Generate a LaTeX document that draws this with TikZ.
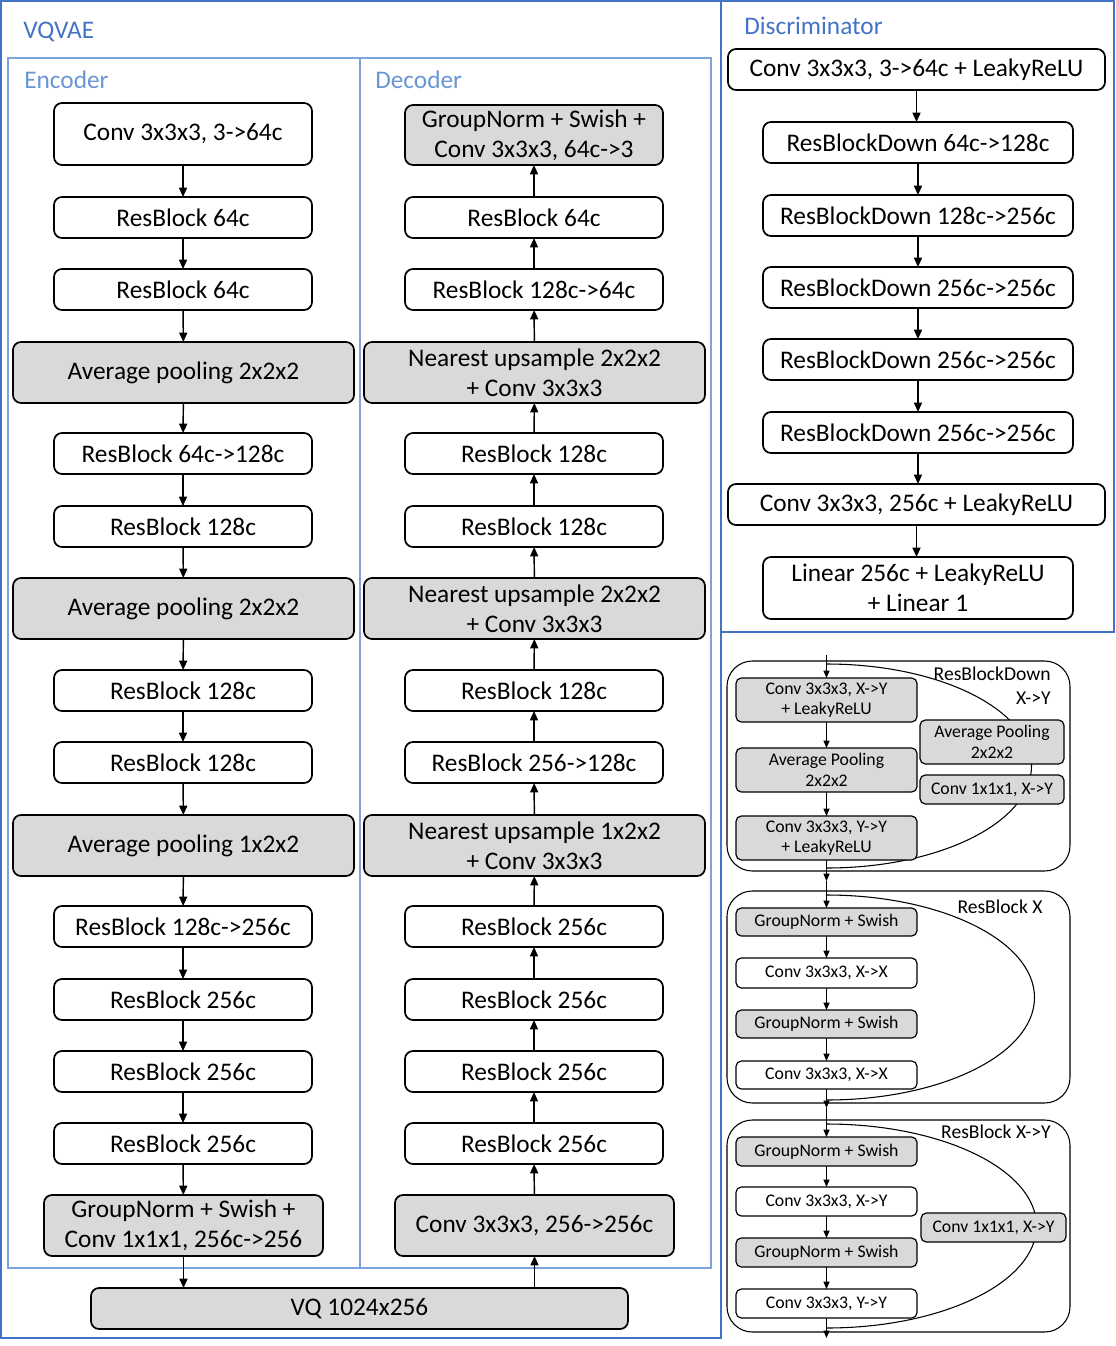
\documentclass[tikz,border=0pt]{standalone}
\usepackage{fontspec}
\setmainfont{Carlito}
\usetikzlibrary{arrows.meta}
\definecolor{dblue}{RGB}{68,114,196}
\definecolor{lblue}{RGB}{124,164,220}
\definecolor{tblue}{RGB}{105,150,212}
\definecolor{gfill}{RGB}{217,217,217}
\newcommand\pbox[7]{\node[#6, minimum width={(#4-#2)*0.75pt}, minimum height={(#5-#3)*0.75pt}] (#1) at ({(#2+#4)/2},{(#3+#5)/2+1}) {#7};}
\newcommand\halfell[4]{\draw[line width=0.8pt] (#1,{#2-#4}) .. controls ({#1+0.5523*#3},{#2-#4}) and ({#1+#3},{#2-0.5523*#4}) .. ({#1+#3},#2) .. controls ({#1+#3},{#2+0.5523*#4}) and ({#1+0.5523*#3},{#2+#4}) .. (#1,{#2+#4});}
\tikzset{
  box/.style={draw, line width=1.3pt, rounded corners=6pt, inner sep=0pt, outer sep=0pt, align=center, font=\fontsize{19}{22.5}\selectfont, fill=white},
  gbox/.style={box, fill=gfill},
  sbox/.style={draw, line width=0.9pt, rounded corners=4pt, inner sep=0pt, outer sep=0pt, align=center, font=\fontsize{13.3}{15.5}\selectfont, fill=white},
  sgbox/.style={sbox, fill=gfill},
  arr/.style={-{Triangle[length=7pt,width=6pt]}, line width=1.1pt},
  sarr/.style={-{Triangle[length=5.5pt,width=4.5pt]}, line width=0.8pt},
  mainframe/.style={draw=dblue, line width=1.6pt},
  subframe/.style={draw=lblue, line width=1.6pt},
  ttl/.style={anchor=west, inner sep=0pt, font=\fontsize{19}{22}\selectfont},
  panelbox/.style={draw, line width=0.8pt, rounded corners=19pt},
  lab/.style={inner sep=0pt, font=\fontsize{14.7}{18}\selectfont}
}
\begin{document}
\begin{tikzpicture}[x=0.75pt, y=-0.75pt]
\useasboundingbox (0,0) rectangle (1116,1346);
% frames
\draw[mainframe] (1,1) rectangle (721,1338);
\draw[mainframe] (721,1) rectangle (1114,632);
\draw[subframe] (8,58) rectangle (360,1268);
\draw[subframe] (360,58) rectangle (711,1268);
\node[ttl, text=dblue] (tv) at (23,32) {VQVAE};
\node[ttl, text=tblue] (te) at (24,80) {Encoder};
\node[ttl, text=tblue] (td) at (375,80) {Decoder};
\node[ttl, text=dblue] (tdis) at (744,26) {Discriminator};
% Encoder
\pbox{e1}{54}{102}{312}{164}{box}{Conv 3x3x3, 3->64c}
\pbox{e2}{54}{196}{312}{237}{box}{ResBlock 64c}
\pbox{e3}{54}{268}{312}{309}{box}{ResBlock 64c}
\pbox{e4}{13}{341}{354}{402}{gbox}{Average pooling 2x2x2}
\pbox{e5}{54}{432}{312}{473}{box}{ResBlock 64c->128c}
\pbox{e6}{54}{505}{312}{546}{box}{ResBlock 128c}
\pbox{e7}{13}{577}{354}{638}{gbox}{Average pooling 2x2x2}
\pbox{e8}{54}{669}{312}{710}{box}{ResBlock 128c}
\pbox{e9}{54}{741}{312}{782}{box}{ResBlock 128c}
\pbox{e10}{13}{814}{354}{875}{gbox}{Average pooling 1x2x2}
\pbox{e11}{54}{905}{312}{946}{box}{ResBlock 128c->256c}
\pbox{e12}{54}{978}{312}{1019}{box}{ResBlock 256c}
\pbox{e13}{54}{1050}{312}{1091}{box}{ResBlock 256c}
\pbox{e14}{54}{1122}{312}{1163}{box}{ResBlock 256c}
\pbox{e15}{44}{1194}{323}{1255}{gbox}{GroupNorm + Swish +\\Conv 1x1x1, 256c->256}
% Decoder
\pbox{d1}{405}{104}{663}{164}{gbox}{GroupNorm + Swish +\\Conv 3x3x3, 64c->3}
\pbox{d2}{405}{196}{663}{237}{box}{ResBlock 64c}
\pbox{d3}{405}{268}{663}{309}{box}{ResBlock 128c->64c}
\pbox{d4}{364}{341}{705}{402}{gbox}{Nearest upsample 2x2x2\\+ Conv 3x3x3}
\pbox{d5}{405}{432}{663}{473}{box}{ResBlock 128c}
\pbox{d6}{405}{505}{663}{546}{box}{ResBlock 128c}
\pbox{d7}{364}{577}{705}{638}{gbox}{Nearest upsample 2x2x2\\+ Conv 3x3x3}
\pbox{d8}{405}{669}{663}{710}{box}{ResBlock 128c}
\pbox{d9}{405}{741}{663}{782}{box}{ResBlock 256->128c}
\pbox{d10}{364}{814}{705}{875}{gbox}{Nearest upsample 1x2x2\\+ Conv 3x3x3}
\pbox{d11}{405}{905}{663}{946}{box}{ResBlock 256c}
\pbox{d12}{405}{978}{663}{1019}{box}{ResBlock 256c}
\pbox{d13}{405}{1050}{663}{1091}{box}{ResBlock 256c}
\pbox{d14}{405}{1122}{663}{1163}{box}{ResBlock 256c}
\pbox{d15}{395}{1194}{674}{1255}{gbox}{Conv 3x3x3, 256->256c}
\pbox{vq}{91}{1287}{628}{1328}{gbox}{VQ 1024x256}
\foreach \a/\b in {e1/e2,e2/e3,e3/e4,e4/e5,e5/e6,e6/e7,e7/e8,e8/e9,e9/e10,e10/e11,e11/e12,e12/e13,e13/e14,e14/e15}
  \draw[arr] (\a) -- (\b);
\foreach \a/\b in {d2/d1,d3/d2,d4/d3,d5/d4,d6/d5,d7/d6,d8/d7,d9/d8,d10/d9,d11/d10,d12/d11,d13/d12,d14/d13,d15/d14}
  \draw[arr] (\a) -- (\b);
\draw[arr] (e15.south) -- (e15.south |- vq.north);
\draw[arr] (vq.north -| d15.south) -- (d15.south);
% Discriminator
\pbox{c1}{728}{48}{1105}{89}{box}{Conv 3x3x3, 3->64c + LeakyReLU}
\pbox{c2}{763}{121}{1073}{162}{box}{ResBlockDown 64c->128c}
\pbox{c3}{763}{194}{1073}{235}{box}{ResBlockDown 128c->256c}
\pbox{c4}{763}{266}{1073}{307}{box}{ResBlockDown 256c->256c}
\pbox{c5}{763}{338}{1073}{379}{box}{ResBlockDown 256c->256c}
\pbox{c6}{763}{411}{1073}{452}{box}{ResBlockDown 256c->256c}
\pbox{c7}{728}{483}{1105}{524}{box}{Conv 3x3x3, 256c + LeakyReLU}
\pbox{c8}{763}{556}{1073}{618}{box}{Linear 256c + LeakyReLU\\+ Linear 1}
\foreach \a/\b in {c1/c2,c2/c3,c3/c4,c4/c5,c5/c6,c6/c7,c7/c8}
  \draw[arr] (\a.south) -- (\a.south |- \b.north);
% Panel 1: ResBlockDown
\draw[panelbox] (727,661) rectangle (1070,871);
\halfell{826.5}{766}{205}{102}
\node[lab, anchor=east, align=right] (l1) at (1051,686) {ResBlockDown\\X->Y};
\pbox{p1a}{736}{677}{917}{721}{sgbox}{Conv 3x3x3, X->Y\\+ LeakyReLU}
\pbox{p1b}{736}{747}{917}{791}{sgbox}{Average Pooling\\2x2x2}
\pbox{p1c}{736}{815}{917}{859}{sgbox}{Conv 3x3x3, Y->Y\\+ LeakyReLU}
\pbox{p1d}{920}{719}{1064}{763}{sgbox}{Average Pooling\\2x2x2}
\pbox{p1e}{920}{774}{1064}{803}{sgbox}{Conv 1x1x1, X->Y}
% Panel 2: ResBlock X
\draw[panelbox] (727,891) rectangle (1070,1103);
\halfell{826.5}{997.5}{208}{102.5}
\node[lab] (l2) at (1000,907) {ResBlock X};
\pbox{p2a}{736}{907}{917}{935}{sgbox}{GroupNorm + Swish}
\pbox{p2b}{736}{957}{917}{987}{sbox}{Conv 3x3x3, X->X}
\pbox{p2c}{736}{1009}{917}{1037}{sgbox}{GroupNorm + Swish}
\pbox{p2d}{736}{1060}{917}{1088}{sbox}{Conv 3x3x3, X->X}
% Panel 3: ResBlock X->Y
\draw[panelbox] (727,1120) rectangle (1070,1332);
\halfell{826.5}{1226}{210}{102}
\node[lab] (l3) at (996,1132) {ResBlock X->Y};
\pbox{p3a}{736}{1136}{917}{1165}{sgbox}{GroupNorm + Swish}
\pbox{p3b}{736}{1186}{917}{1215}{sbox}{Conv 3x3x3, X->Y}
\pbox{p3c}{736}{1237}{917}{1266}{sgbox}{GroupNorm + Swish}
\pbox{p3d}{736}{1288}{917}{1317}{sbox}{Conv 3x3x3, Y->Y}
\pbox{p3e}{921}{1212}{1066}{1241}{sgbox}{Conv 1x1x1, X->Y}
% panel arrows
\coordinate (p1in) at (826.5,655);
\coordinate (p1out) at (826.5,881);
\coordinate (p2out) at (826.5,1108);
\coordinate (p3out) at (826.5,1338);
\draw[sarr] (p1in) -- (p1a);
\draw[sarr] (p1a) -- (p1b);
\draw[sarr] (p1b) -- (p1c);
\draw[sarr] (p1c) -- (p1out);
\draw[sarr] (p1out) -- (p2a);
\draw[sarr] (p2a) -- (p2b);
\draw[sarr] (p2b) -- (p2c);
\draw[sarr] (p2c) -- (p2d);
\draw[sarr] (p2d) -- (p2out);
\draw[sarr] (p2out) -- (p3a);
\draw[sarr] (p3a) -- (p3b);
\draw[sarr] (p3b) -- (p3c);
\draw[sarr] (p3c) -- (p3d);
\draw[sarr] (p3d) -- (p3out);
\end{tikzpicture}
\end{document}
